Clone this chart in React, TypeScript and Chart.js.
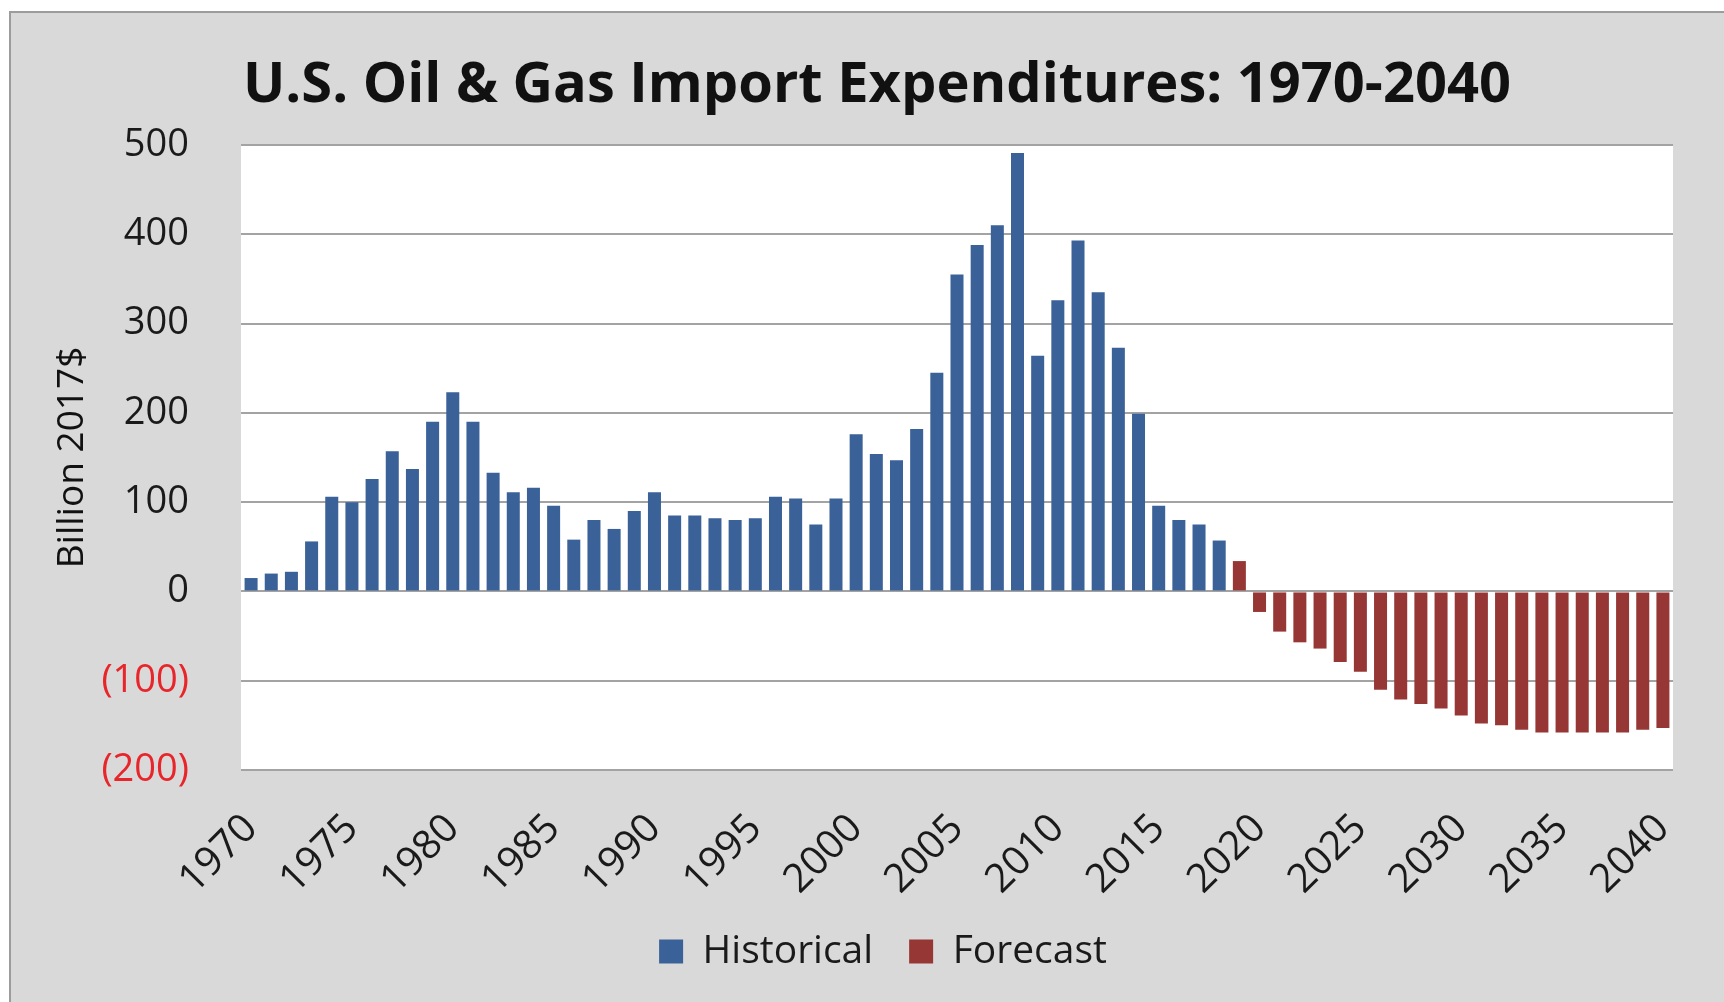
import React, { useEffect, useRef } from "react";
import { Chart, registerables } from "chart.js";

Chart.register(...registerables);

const years: number[] = [
  1970, 1971, 1972, 1973, 1974, 1975, 1976, 1977, 1978, 1979,
  1980, 1981, 1982, 1983, 1984, 1985, 1986, 1987, 1988, 1989,
  1990, 1991, 1992, 1993, 1994, 1995, 1996, 1997, 1998, 1999,
  2000, 2001, 2002, 2003, 2004, 2005, 2006, 2007, 2008, 2009,
  2010, 2011, 2012, 2013, 2014, 2015, 2016, 2017, 2018, 2019,
  2020, 2021, 2022, 2023, 2024, 2025, 2026, 2027, 2028, 2029,
  2030, 2031, 2032, 2033, 2034, 2035, 2036, 2037, 2038, 2039,
  2040,
];

// 1970 - 2018
const historical: number[] = [
  15, 20, 22, 56, 106, 100, 126, 157, 137, 190,
  223, 190, 133, 111, 116, 96, 58, 80, 70, 90,
  111, 85, 85, 82, 80, 82, 106, 104, 75, 104,
  176, 154, 147, 182, 245, 355, 388, 410, 491, 264,
  326, 393, 335, 273, 199, 96, 80, 75, 57,
];

// 2019 - 2040
const forecast: number[] = [
  34, -23, -45, -57, -64, -79, -90, -110, -121, -126,
  -131, -139, -148, -150, -155, -158, -158, -158, -158, -158,
  -155, -153,
];

const yTicks: number[] = [-200, -100, 0, 100, 200, 300, 400, 500];

const TITLE = "U.S. Oil & Gas Import Expenditures: 1970-2040";
const Y_TITLE = "Billion 2017$";

const plotBg = {
  id: "plotBg",
  beforeDraw(chart: any) {
    const { ctx, chartArea } = chart;
    ctx.save();
    ctx.fillStyle = "#ffffff";
    ctx.fillRect(chartArea.left, chartArea.top, chartArea.right - chartArea.left, chartArea.bottom - chartArea.top);
    ctx.restore();
  },
};

const titlePlugin = {
  id: "centeredTitle",
  afterDraw(chart: any) {
    const { ctx } = chart;
    ctx.save();
    ctx.font = "bold 56px 'Open Sans'";
    ctx.fillStyle = "#111111";
    ctx.textAlign = "center";
    ctx.textBaseline = "middle";
    ctx.fillText(TITLE, 866, 73);
    ctx.restore();
  },
};

export default function App() {
  const ref = useRef<HTMLCanvasElement | null>(null);

  useEffect(() => {
    if (!ref.current) return;
    const histData = years.map((_, i) => (i < historical.length ? historical[i] : null));
    const foreData = years.map((_, i) => (i >= historical.length ? forecast[i - historical.length] : null));

    const chart = new Chart(ref.current, {
      type: "bar",
      data: {
        labels: years.map((y) => String(y)),
        datasets: [
          {
            label: "Historical",
            data: histData,
            backgroundColor: "#3a6198",
            grouped: false,
            categoryPercentage: 1,
            barPercentage: 0.645,
          } as any,
          {
            label: "Forecast",
            data: foreData,
            backgroundColor: "#973735",
            grouped: false,
            categoryPercentage: 1,
            barPercentage: 0.645,
          } as any,
        ],
      },
      options: {
        responsive: false,
        animation: false,
        layout: { padding: { left: 31, right: 0, top: 132, bottom: 21 } },
        font: { family: "'Open Sans'" },
        plugins: {
          title: { display: false },
          legend: {
            display: true,
            position: "bottom",
            labels: {
              boxWidth: 24,
              boxHeight: 24,
              padding: 36,
              color: "#1a1a1a",
              font: { family: "'Open Sans'", size: 39 },
            },
          },
          tooltip: { enabled: false },
        },
        scales: {
          x: {
            grid: { display: false, drawTicks: false },
            border: { display: false },
            ticks: {
              autoSkip: false,
              maxRotation: 45,
              minRotation: 45,
              padding: 35,
              color: "#1a1a1a",
              font: { family: "'Open Sans'", size: 40 },
              callback: (_v: any, i: number) => (years[i] % 5 === 0 ? String(years[i]) : ""),
            },
            afterFit: (scale: any) => {
              scale.height = 126;
              scale.paddingLeft = 0;
              scale.paddingRight = 0;
            },
          },
          y: {
            min: -200,
            max: 500,
            afterBuildTicks: (scale: any) => {
              scale.ticks = yTicks.map((v) => ({ value: v }));
            },
            grid: { color: "#a3a3a3", lineWidth: 2, drawTicks: false },
            border: { display: false },
            ticks: {
              padding: 52,
              font: { family: "'Open Sans'", size: 38 },
              color: (c: any) => (c.tick && c.tick.value < 0 ? "#e8252a" : "#1a1a1a"),
              callback: (v: any) => (Number(v) < 0 ? "(" + Math.abs(Number(v)) + ")" : String(v)),
            },
            title: {
              display: true,
              text: Y_TITLE,
              color: "#111111",
              font: { family: "'Open Sans'", size: 37 },
              padding: { top: 8, bottom: 0 },
            },
            afterFit: (scale: any) => {
              scale.width = 199;
            },
          },
          y2: {
            position: "right",
            display: true,
            grid: { display: false, drawTicks: false },
            border: { display: false },
            ticks: { display: false },
            afterFit: (scale: any) => {
              scale.width = 51;
            },
          },
        },
      } as any,
      plugins: [plotBg, titlePlugin],
    });
    return () => chart.destroy();
  }, []);

  return (
    <div
      style={{
        position: "absolute",
        left: 9,
        top: 11,
        width: 1713,
        height: 989,
        borderLeft: "2px solid #9c9c9c",
        borderTop: "2px solid #9c9c9c",
        background: "#d9d9d9",
      }}
    >
      <canvas ref={ref} width={1713} height={989} style={{ display: "block", width: 1713, height: 989 }} />
    </div>
  );
}
